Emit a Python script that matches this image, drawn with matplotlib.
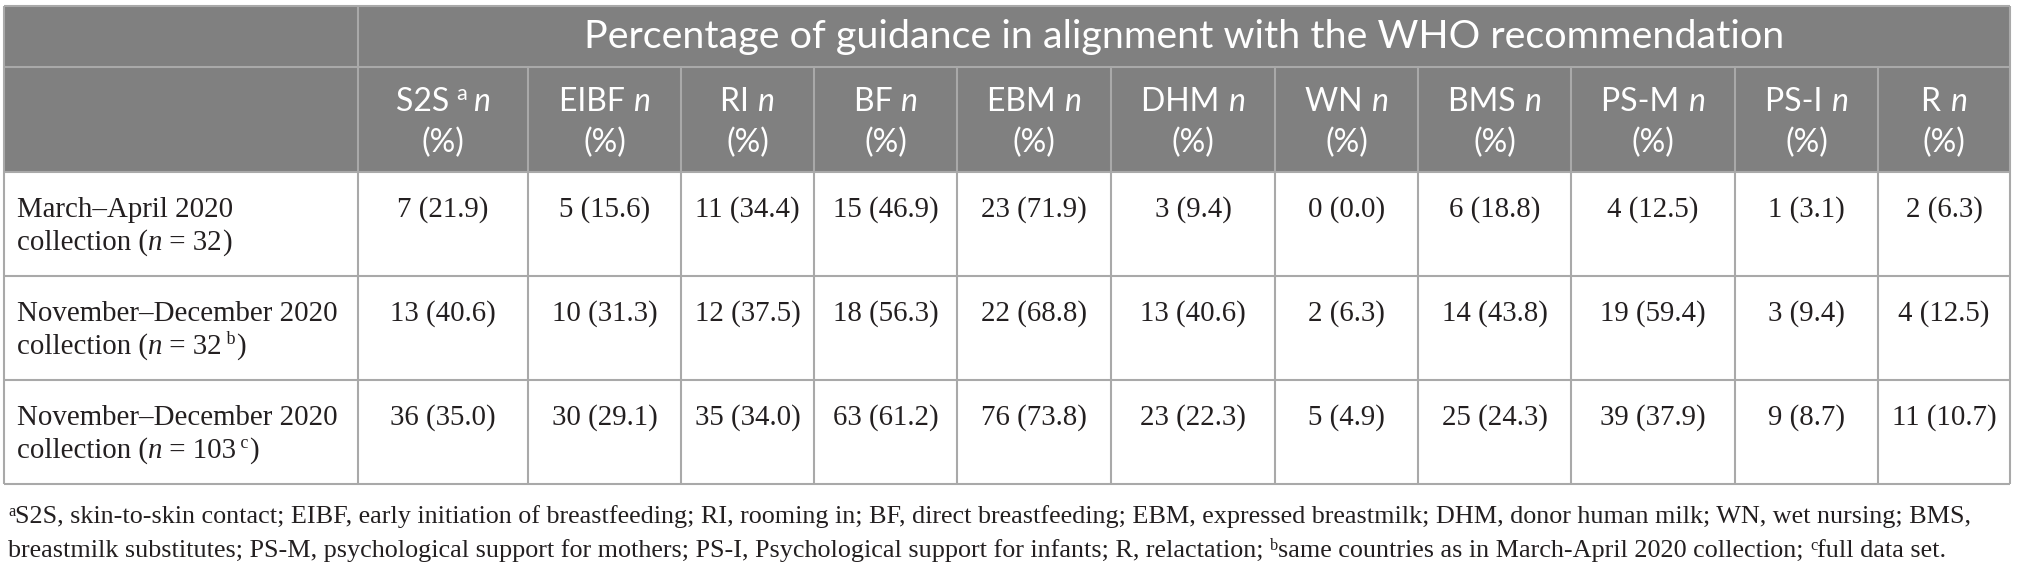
import matplotlib
matplotlib.use('Agg')
import matplotlib.pyplot as plt
from matplotlib.patches import Rectangle

# Table content
title = 'Percentage of guidance in alignment with the WHO recommendation'
columns = ['S2S', 'EIBF', 'RI', 'BF', 'EBM', 'DHM', 'WN', 'BMS', 'PS-M', 'PS-I', 'R']
column_notes = ['a', '', '', '', '', '', '', '', '', '', '']

row_periods = ['March–April 2020', 'November–December 2020', 'November–December 2020']
row_sizes = ['32', '32', '103']
row_notes = ['', 'b', 'c']

counts_mar_apr = [7, 5, 11, 15, 23, 3, 0, 6, 4, 1, 2]
pct_mar_apr = [21.9, 15.6, 34.4, 46.9, 71.9, 9.4, 0.0, 18.8, 12.5, 3.1, 6.3]
counts_nov_dec_same = [13, 10, 12, 18, 22, 13, 2, 14, 19, 3, 4]
pct_nov_dec_same = [40.6, 31.3, 37.5, 56.3, 68.8, 40.6, 6.3, 43.8, 59.4, 9.4, 12.5]
counts_nov_dec_full = [36, 30, 35, 63, 76, 23, 5, 25, 39, 9, 11]
pct_nov_dec_full = [35.0, 29.1, 34.0, 61.2, 73.8, 22.3, 4.9, 24.3, 37.9, 8.7, 10.7]

counts = [counts_mar_apr, counts_nov_dec_same, counts_nov_dec_full]
pcts = [pct_mar_apr, pct_nov_dec_same, pct_nov_dec_full]

footnote1 = ('S2S, skin-to-skin contact; EIBF, early initiation of breastfeeding; RI, rooming in; '
             'BF, direct breastfeeding; EBM, expressed breastmilk; DHM, donor human milk; '
             'WN, wet nursing; BMS,')
footnote2a = ('breastmilk substitutes; PS-M, psychological support for mothers; '
              'PS-I, Psychological support for infants; R, relactation; ')
footnote2b = 'same countries as in March-April 2020 collection; '
footnote2c = 'full data set.'

# Layout (pixels)
W, H = 2018, 575
col_edges = [4, 358, 528, 681, 814, 957, 1111, 1275, 1418, 1571, 1735, 1878, 2010]
row_edges = [6, 67, 172, 276, 380, 484]

SANS = 'Lato'
SERIF = 'Liberation Serif'
HEAD_BG = '#808080'
LINE = '#a9a9a9'
TEXT = '#231f20'

fig = plt.figure(figsize=(W / 100, H / 100), dpi=100)
ax = fig.add_axes([0, 0, 1, 1])
ax.set_xlim(0, W)
ax.set_ylim(H, 0)
ax.axis('off')
renderer = fig.canvas.get_renderer()


def width(s, **kw):
    t = ax.text(0, 0, s, **kw)
    w = t.get_window_extent(renderer).width
    t.remove()
    return w


def adv(s, **kw):
    # advance width, trailing spaces included
    return width(s + '|', **kw) - width('|', **kw)


def runs_text(x, y, runs, ha='left'):
    ws = [adv(s, **kw) for s, kw, r in runs]
    start = x - sum(ws) / 2 if ha == 'center' else x
    for (s, kw, r), w in zip(runs, ws):
        ax.text(start, y - r, s, va='baseline', ha='left', **kw)
        start += w


# header background
ax.add_patch(Rectangle((col_edges[0], row_edges[0]), col_edges[-1] - col_edges[0],
                       row_edges[2] - row_edges[0], facecolor=HEAD_BG, edgecolor='none'))

# grid lines
lw = 1.5
for y in row_edges:
    ax.plot([col_edges[0], col_edges[-1]], [y, y], color=LINE, lw=lw, solid_capstyle='butt')
for i, x in enumerate(col_edges):
    y0 = row_edges[0] if i in (0, 1, len(col_edges) - 1) else row_edges[1]
    ax.plot([x, x], [y0, row_edges[-1]], color=LINE, lw=lw, solid_capstyle='butt')

# title
fs_title = 23 * 1203 / width(title, family=SANS, fontsize=23)
ax.text((col_edges[1] + col_edges[-1]) / 2, 48, title, family=SANS, fontsize=fs_title,
        color='white', ha='center', va='baseline')

# column headers
fs_head = 23
head = dict(family=SANS, fontsize=fs_head, color='white')
head_it = dict(family=SANS, fontsize=fs_head, color='white', style='italic')
head_sup = dict(family=SANS, fontsize=fs_head * 0.68, color='white')
for j, name in enumerate(columns):
    cx = (col_edges[j + 1] + col_edges[j + 2]) / 2
    runs = [(name + ' ', head, 0)]
    if column_notes[j]:
        runs.append((column_notes[j] + ' ', head_sup, 11))
    runs.append(('n', head_it, 0))
    runs_text(cx, 111, runs, ha='center')
    ax.text(cx, 152, '(%)', ha='center', va='baseline', **head)

# body
fs_body = 20.8
body = dict(family=SERIF, fontsize=fs_body, color=TEXT)
body_it = dict(family=SERIF, fontsize=fs_body, color=TEXT, style='italic')
body_sup = dict(family=SERIF, fontsize=fs_body * 0.62, color=TEXT)
for i in range(len(row_periods)):
    top = row_edges[i + 2]
    ax.text(17, top + 45, row_periods[i], va='baseline', ha='left', **body)
    runs = [('collection (', body, 0), ('n', body_it, 0), (' = ' + row_sizes[i], body, 0)]
    if row_notes[i]:
        runs.append((' ' + row_notes[i], body_sup, 10))
    runs.append((')', body, 0))
    runs_text(17, top + 78, runs)
    for j in range(len(columns)):
        cx = (col_edges[j + 1] + col_edges[j + 2]) / 2
        ax.text(cx, top + 45, f'{counts[i][j]} ({pcts[i][j]:.1f})', ha='center',
                va='baseline', **body)

# footnotes
fs_foot = 14
foot_w = adv(footnote1, family=SERIF, fontsize=fs_foot) + adv('a', family=SERIF, fontsize=fs_foot * 0.62)
fs_foot = fs_foot * 1980 / foot_w
foot = dict(family=SERIF, fontsize=fs_foot, color=TEXT)
foot_sup = dict(family=SERIF, fontsize=fs_foot * 0.62, color=TEXT)
runs_text(8, 523, [('a', foot_sup, 7), (footnote1, foot, 0)])
runs_text(8, 557, [(footnote2a, foot, 0), ('b', foot_sup, 7), (footnote2b, foot, 0),
                   ('c', foot_sup, 7), (footnote2c, foot, 0)])

fig.savefig('out.png', dpi=100, facecolor='white')
